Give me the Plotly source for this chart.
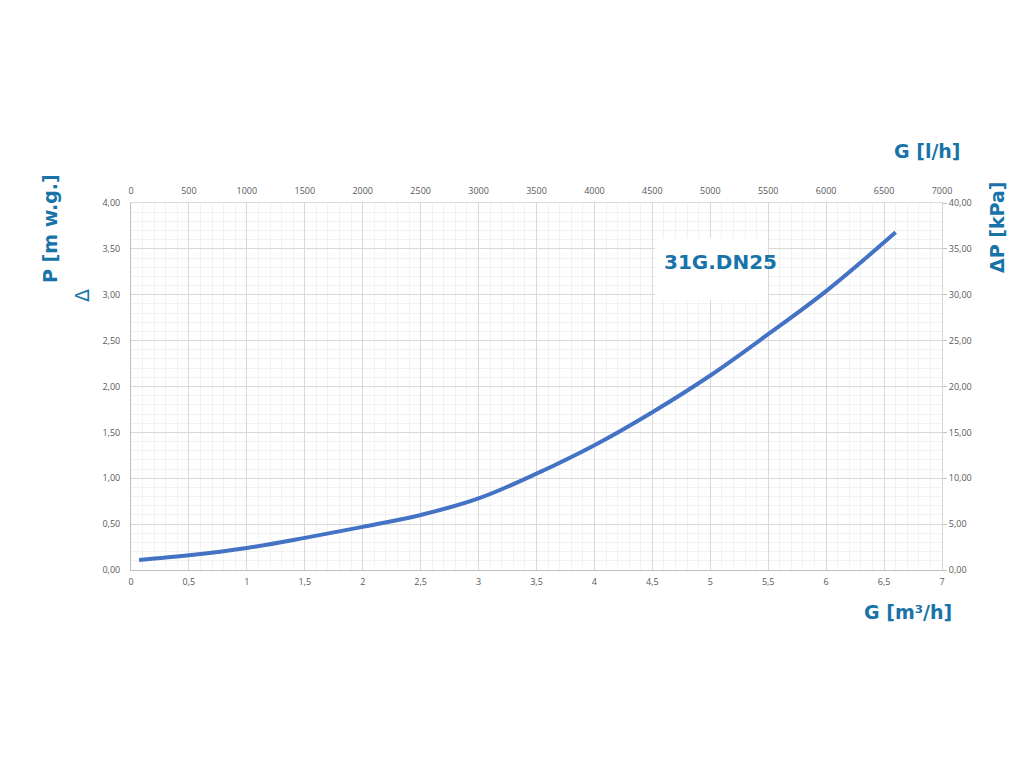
import plotly.graph_objects as go

# Data
G_m3h = [0.07, 0.5, 1.0, 1.5, 2.0, 2.5, 3.0, 3.5, 4.0, 4.5, 5.0, 5.5, 6.0, 6.6]
dP_mwg = [0.11, 0.16, 0.24, 0.35, 0.47, 0.60, 0.78, 1.05, 1.36, 1.72, 2.12, 2.57, 3.04, 3.68]
G_lh = [g * 1000 for g in G_m3h]
dP_kpa = [p * 10 for p in dP_mwg]

label_text = "31G.DN25"
title_col = "#1874a8"
tick_col = "#595959"
grid_major = "#d9d9d9"
grid_minor = "#f2f2f2"

# plot area in reference pixels
PX0, PX1, PY0, PY1 = 131, 942, 203, 570
OFF = 8  # page body margin


def px(x):
    return (x - PX0) / (PX1 - PX0)


def py(y):
    return (PY1 - y) / (PY1 - PY0)


fig = go.Figure()
fig.add_trace(go.Scatter(x=G_m3h, y=dP_mwg, mode="lines",
                         line=dict(color="#4472c4", width=4, shape="spline", smoothing=1.0),
                         xaxis="x", yaxis="y", showlegend=False, hoverinfo="skip"))
fig.add_trace(go.Scatter(x=G_lh, y=dP_kpa, mode="lines", line=dict(width=0), opacity=0,
                         xaxis="x2", yaxis="y2", showlegend=False, hoverinfo="skip"))

tickfont = dict(family="Open Sans, DejaVu Sans, sans-serif", size=9, color=tick_col)
common_minor = dict(showgrid=True, gridcolor=grid_minor, gridwidth=1)

fig.update_layout(
    width=1024, height=768,
    margin=dict(l=PX0 - OFF, r=1024 - PX1 + OFF, t=PY0 - OFF, b=768 - PY1 + OFF),
    paper_bgcolor="white", plot_bgcolor="white",
    separators=", ",
    xaxis=dict(range=[0, 7], dtick=0.5, tick0=0, showgrid=True, gridcolor=grid_major, gridwidth=1,
               minor=dict(dtick=0.1, **common_minor), zeroline=False,
               showline=True, linecolor="#bfbfbf", linewidth=1,
               ticks="", tickfont=tickfont, ticklabelstandoff=3),
    xaxis2=dict(range=[0, 7000], dtick=500, tick0=0, overlaying="x", side="top", showgrid=False,
                zeroline=False, showline=True, linecolor="#d9d9d9", ticks="", tickfont=tickfont,
                tickformat="d", ticklabelstandoff=4),
    yaxis=dict(range=[0, 4], dtick=0.5, tick0=0, showgrid=True, gridcolor=grid_major, gridwidth=1,
               minor=dict(dtick=0.1, **common_minor), zeroline=False,
               showline=True, linecolor="#bfbfbf", linewidth=1,
               ticks="", tickformat=".2f", tickfont=tickfont, ticklabelstandoff=8),
    yaxis2=dict(range=[0, 40], dtick=5, tick0=0, overlaying="y", side="right", showgrid=False,
                zeroline=False, showline=True, linecolor="#d9d9d9",
                ticks="outside", ticklen=4, tickcolor="#bfbfbf", tickformat=".2f", tickfont=tickfont),
)

title_font = dict(family="DejaVu Sans, sans-serif", size=19, color=title_col)
fig.add_annotation(text="<b>G [l/h]</b>", xref="paper", yref="paper", x=px(927), y=py(151),
                   showarrow=False, font=title_font, xanchor="center", yanchor="middle")
fig.add_annotation(text="<b>G [m³/h]</b>", xref="paper", yref="paper", x=px(908), y=py(612),
                   showarrow=False, font=title_font, xanchor="center", yanchor="middle")
fig.add_annotation(text="<b>P [m w.g.]</b>", xref="paper", yref="paper", x=px(50), y=py(229),
                   showarrow=False, font=title_font, textangle=-90, xanchor="center", yanchor="middle")
fig.add_annotation(text="Δ", xref="paper", yref="paper", x=px(82), y=py(296),
                   showarrow=False, font=title_font, textangle=-90, xanchor="center", yanchor="middle")
fig.add_annotation(text="<b>ΔP [kPa]</b>", xref="paper", yref="paper", x=px(997), y=py(228),
                   showarrow=False, font=title_font, textangle=-90, xanchor="center", yanchor="middle")

# label box
fig.add_shape(type="rect", xref="paper", yref="paper",
              x0=px(655), x1=px(768), y0=py(300), y1=py(238),
              fillcolor="white", line=dict(width=0), layer="above")
fig.add_annotation(text=f"<b>{label_text}</b>", xref="paper", yref="paper", x=px(720), y=py(262),
                   showarrow=False, font=dict(family="DejaVu Sans, sans-serif", size=20, color=title_col),
                   xanchor="center", yanchor="middle")

fig.write_html("out.html")
